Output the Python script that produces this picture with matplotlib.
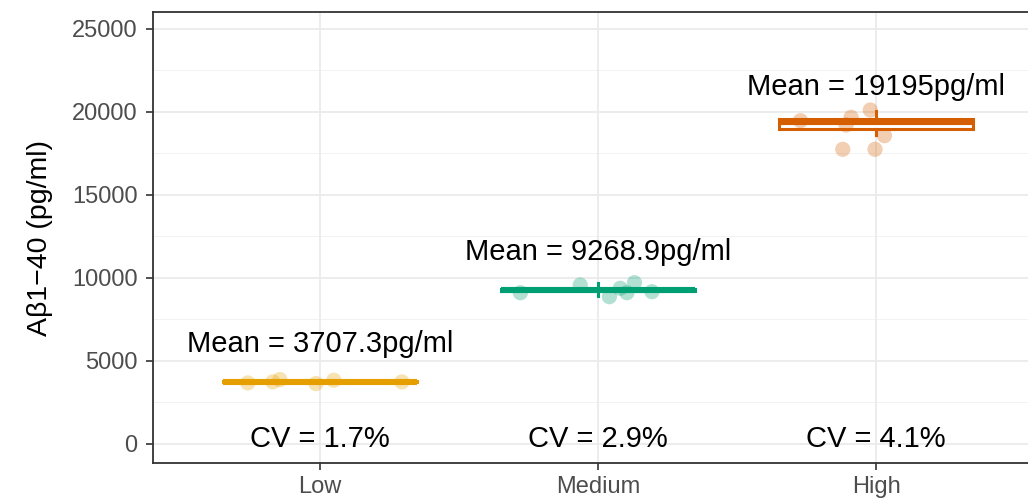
import matplotlib.pyplot as plt
import numpy as np

plt.rcParams['font.family'] = ['Liberation Sans', 'DejaVu Sans']

groups = ['Low', 'Medium', 'High']
colors = ['#E69F00', '#009E73', '#D55E00']
means = [3707.3, 9268.9, 19195]
cvs = [1.7, 2.9, 4.1]

# box stats
q1 = [3715, 9190, 18970]
med = [3740, 9280, 19400]
q3 = [3765, 9365, 19590]
whislo = [3650, 8900, 18590]
whishi = [3860, 9710, 20060]

# jittered points (x offset from group centre, value)
low_dx = [-0.259, -0.169, -0.144, -0.014, 0.050, 0.295]
low_y = [3680, 3740, 3880, 3640, 3840, 3740]
med_dx = [-0.279, -0.064, 0.041, 0.080, 0.104, 0.131, 0.194]
med_y = [9114, 9578, 8873, 9380, 9114, 9717, 9175]
high_dx = [-0.272, -0.090, -0.108, -0.021, 0.030, -0.120, -0.004]
high_y = [19476, 19681, 19217, 20120, 18572, 17753, 17753]

fig = plt.figure(figsize=(10.28, 5), dpi=100)
# panel runs past the right edge of the image, as in the original
ax = fig.add_axes([153 / 1028, 37 / 500, 890 / 1028, 451 / 500])

# grid
for v in np.arange(0, 26000, 5000):
    ax.axhline(v, color='#EBEBEB', lw=1.3, zorder=0)
for v in np.arange(2500, 26000, 5000):
    ax.axhline(v, color='#F2F2F2', lw=0.7, zorder=0)
for i in range(3):
    ax.axvline(i + 1, color='#EBEBEB', lw=1.3, zorder=0)

stats = []
for i in range(3):
    stats.append(dict(med=med[i], q1=q1[i], q3=q3[i],
                      whislo=whislo[i], whishi=whishi[i], fliers=[]))
for i in range(3):
    ax.bxp([stats[i]], positions=[i + 1], widths=0.7, showcaps=False,
           showfliers=False, patch_artist=True,
           boxprops=dict(facecolor='white', edgecolor=colors[i], lw=2.2),
           medianprops=dict(color=colors[i], lw=4.4, solid_capstyle='butt'),
           whiskerprops=dict(color=colors[i], lw=2.2),
           manage_ticks=False, zorder=2)

for i, (dx, yy) in enumerate([(low_dx, low_y), (med_dx, med_y), (high_dx, high_y)]):
    ax.scatter(np.array(dx) + i + 1, yy, s=120, color=colors[i], alpha=0.3,
               edgecolors='none', zorder=3)

for i in range(3):
    ax.text(i + 1, means[i] + 2500, 'Mean = ' + str(means[i]) + 'pg/ml',
            ha='center', va='center_baseline', fontsize=21)
    ax.text(i + 1, 500, 'CV = ' + str(cvs[i]) + '%',
            ha='center', va='center_baseline', fontsize=21)

ax.set_xlim(0.4, 3.6)
ax.set_ylim(-1145, 26024)
ax.set_xticks([1, 2, 3])
ax.set_xticklabels(groups)
ax.set_yticks(np.arange(0, 26000, 5000))
ax.tick_params(axis='both', labelsize=17, colors='#333333', labelcolor='#4D4D4D',
               length=5, width=1.2)
ax.tick_params(axis='x', pad=4.5)
ax.tick_params(axis='y', pad=6)
ax.set_ylabel('A\u03b21\u221240 (pg/ml)', fontsize=20.5, labelpad=14)
for s in ax.spines.values():
    s.set_color('#333333')
    s.set_linewidth(1.3)

fig.savefig('out.png', dpi=100)
